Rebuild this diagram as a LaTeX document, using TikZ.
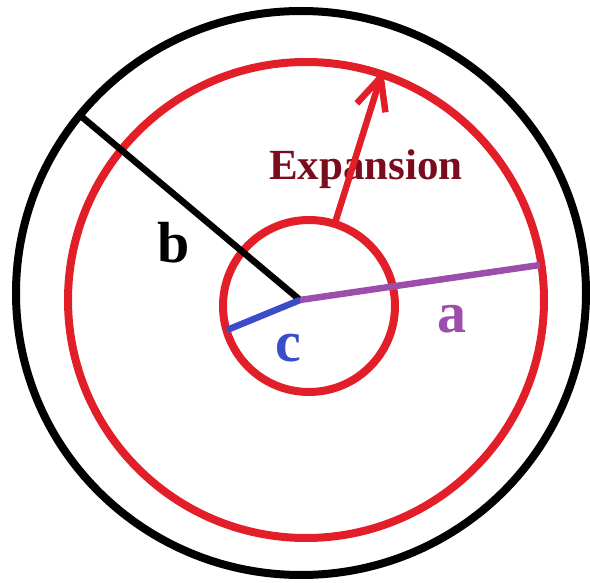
\documentclass[tikz,border=0pt]{standalone}
\usepackage{fontspec}
\setmainfont{Liberation Serif}
\usepackage{tikz}
\usetikzlibrary{arrows.meta}
\definecolor{ringred}{RGB}{226,30,40}
\definecolor{textred}{RGB}{122,12,30}
\definecolor{apurple}{RGB}{155,78,172}
\definecolor{cblue}{RGB}{58,76,200}

\begin{document}
\begin{tikzpicture}[
        x=1pt, y=-1pt,
        ring/.style={draw=ringred, line width=8pt},
        radial/.style={line width=6.5pt},
        letter/.style={
            anchor=base,
            inner sep=0pt,
            font=\fontsize{58}{58}\selectfont\bfseries
        }
    ]
    \useasboundingbox (0,0) rectangle (590,583);
    \draw[line width=8pt] (301,293) ellipse [x radius=285pt, y radius=282pt];
    \draw[ring] (306,300) circle [radius=238pt];
    \draw[ring] (309,306) circle [radius=86pt];
    \coordinate (O) at (300,300);
    \coordinate (B) at (82,117);
    \coordinate (A) at (540,265);
    \coordinate (C) at (227,330);
    \coordinate (S) at (335,223);
    \coordinate (T) at (383,70);
    \draw[radial] (O) -- (B);
    \draw[radial, cblue] (O) -- (C);
    \draw[radial, apurple] (O) -- (A);
    \node[letter] (lb) at (174,263) {b};
    \node[letter, text=apurple] (la) at (452,333) {a};
    \node[letter, text=cblue] (lc) at (288,361) {c};
    \node[letter, text=textred, font=\fontsize{43}{43}\selectfont\bfseries]
        (lexp) at (366,180) {Expansion};
    \draw[radial, ringred, -{Straight Barb[length=32pt,width=30pt]}] (S) -- (T);
\end{tikzpicture}
\end{document}
